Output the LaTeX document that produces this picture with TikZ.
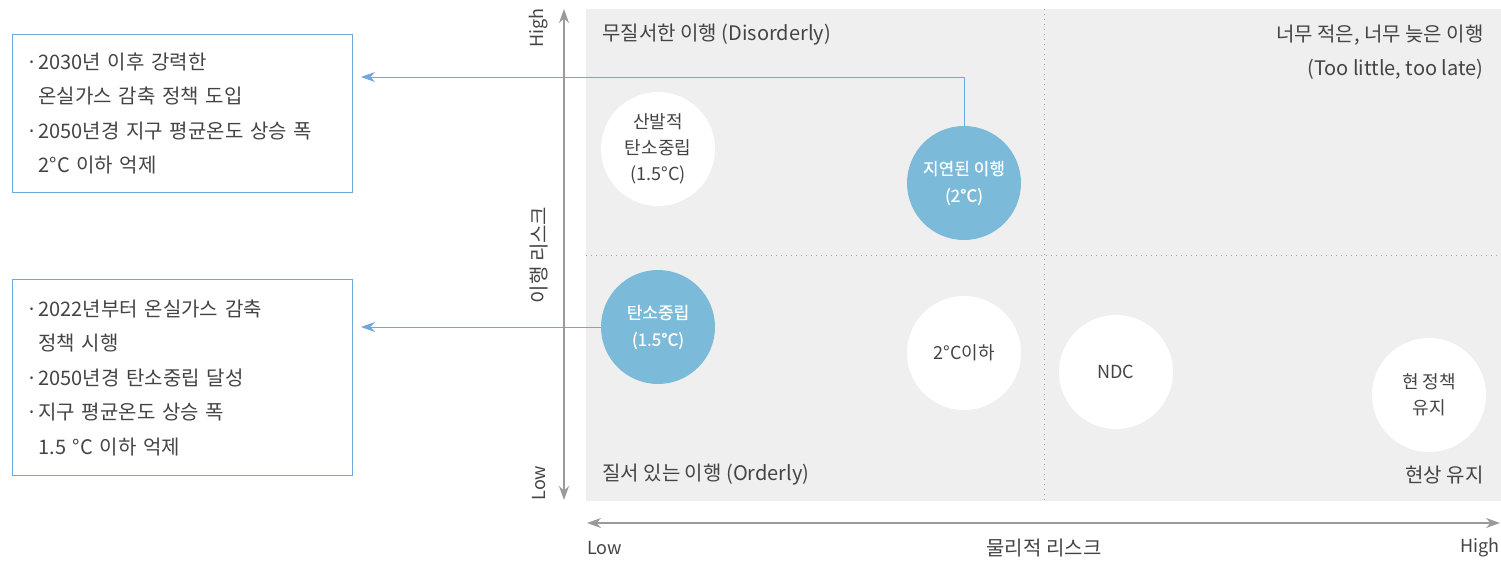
\documentclass[tikz,border=0pt]{standalone}
\usepackage{fontspec}
\setmainfont{Noto Sans CJK KR}
\newfontfamily\medfont{Noto Sans CJK KR}[FakeBold=0.6]
\usepackage{xcolor}
\usetikzlibrary{arrows.meta}

\definecolor{txtgray}{HTML}{444444}
\definecolor{panelgray}{HTML}{EFEFEF}
\definecolor{dotgray}{HTML}{A0A0A0}
\definecolor{axisgray}{HTML}{9A9A9A}
\definecolor{bubbleblue}{HTML}{7BBBD9}
\definecolor{linkblue}{HTML}{6FA8DC}

\newcommand{\itemdot}{\makebox[6pt][l]{·}}
\newcommand{\itemgap}{\hspace*{6pt}}

\tikzset{
  quad/.style={font=\fontsize{10}{17}\selectfont, text=txtgray, inner sep=0pt},
  bubble/.style={circle, fill=white, minimum size=57pt, inner sep=0pt, align=center,
    text=txtgray, font=\fontsize{9}{13}\selectfont},
  hot/.style={bubble, fill=bubbleblue, text=white, font=\medfont\fontsize{8.5}{13.5}\selectfont},
  note/.style={draw=linkblue, line width=0.5pt, text width=156pt, inner xsep=7pt,
    align=left, text=txtgray, font=\fontsize{10}{17.25}\selectfont, anchor=north west},
  link/.style={draw=linkblue, line width=0.5pt, -{Stealth[length=7pt,width=5pt]}, shorten >=4pt},
  axis/.style={draw=axisgray, line width=0.7pt,
    {Stealth[length=7pt,width=5pt]}-{Stealth[length=7pt,width=5pt]}},
  grid/.style={draw=dotgray, line width=0.5pt, dotted},
  axlabel/.style={font=\fontsize{9}{11}\selectfont, text=txtgray, inner sep=0pt}
}

\begin{document}
\begin{tikzpicture}[x=0.5pt,y=-0.5pt]
\useasboundingbox (0,0) rectangle (1501,562);
% quadrants
\fill[panelgray] (586,9) rectangle (1501,501);
\draw[grid] (1044,9) -- (1044,501);
\draw[grid] (586,255) -- (1501,255);

\node[quad, anchor=west] (disorderly) at (602,35) {무질서한 이행 (Disorderly)};
\node[quad, anchor=east, align=right] (toolate) at (1484,52) {너무 적은, 너무 늦은 이행\\(Too little, too late)};
\node[quad, anchor=west] (orderly) at (602,475) {질서 있는 이행 (Orderly)};
\node[quad, anchor=east] (hothouse) at (1484,475) {현상 유지};

% notes on the left
\node[note, minimum height=79pt] (planA) at (12,34)
  {\itemdot 2030년 이후 강력한\\\itemgap 온실가스 감축 정책 도입\\\itemdot 2050년경 지구 평균온도 상승 폭\\\itemgap 2°C 이하 억제};
\node[note, minimum height=98pt] (planB) at (12,279)
  {\itemdot 2022년부터 온실가스 감축\\\itemgap 정책 시행\\\itemdot 2050년경 탄소중립 달성\\\itemdot 지구 평균온도 상승 폭\\\itemgap 1.5 °C 이하 억제};

% scenarios
\node[bubble] (divergent) at (658,149) {산발적\\탄소중립\\(1.5°C)};
\node[hot] (delayed) at (964,183) {지연된 이행\\(2°C)};
\node[hot] (netzero) at (658,327) {탄소중립\\(1.5°C)};
\node[bubble] (below2) at (964,353) {2°C이하};
\node[bubble] (ndc) at (1116,372) {NDC};
\node[bubble] (current) at (1429,395) {현 정책\\유지};

\draw[link] (delayed.north) |- (planA.east |- 0,77);
\draw[link] (netzero.west) -- (planB.east |- netzero.west);

% axes
\coordinate (yTop) at (564,9);
\coordinate (yBot) at (564,500);
\coordinate (xLeft) at (587,523);
\coordinate (xRight) at (1500,523);
\draw[axis] (yBot) -- (yTop);
\draw[axis] (xLeft) -- (xRight);

\node[axlabel, rotate=90] (yHigh) at (539,28) {High};
\node[axlabel, rotate=90, font=\fontsize{10}{12}\selectfont] (yName) at (539,255) {이행 리스크};
\node[axlabel, rotate=90] (yLow) at (539,483) {Low};
\node[axlabel, anchor=west] (xLow) at (587,548) {Low};
\node[axlabel, font=\fontsize{10}{12}\selectfont] (xName) at (1044,548) {물리적 리스크};
\node[axlabel, anchor=east] (xHigh) at (1500,548) {High};
\end{tikzpicture}
\end{document}
